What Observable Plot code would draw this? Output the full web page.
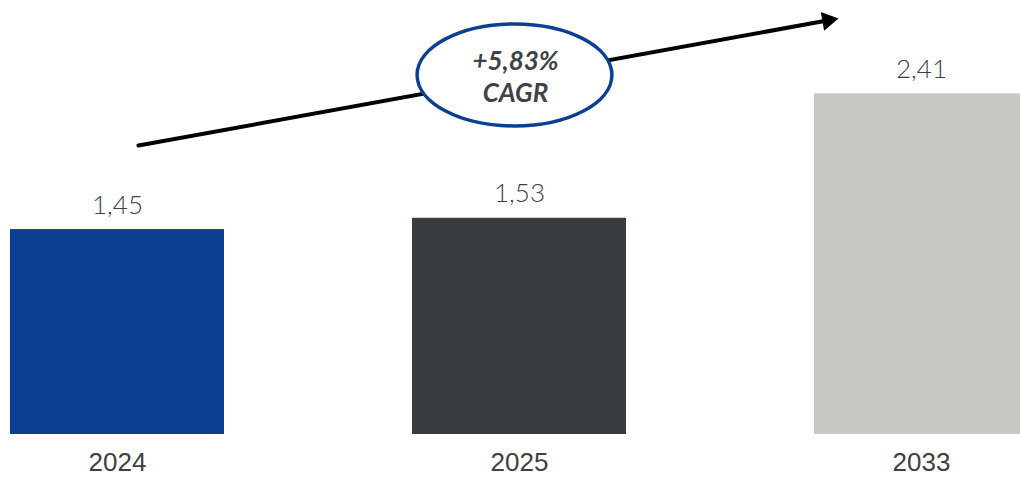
<!DOCTYPE html>
<html>
<head>
<meta charset="utf-8">
<script src="https://cdn.jsdelivr.net/npm/d3@7"></script>
<script src="https://cdn.jsdelivr.net/npm/@observablehq/plot@0.6"></script>
<style>
  html, body { margin: 0; padding: 0; background: #fff; overflow: hidden; }
  svg { overflow: hidden; }
</style>
</head>
<body>
<div id="chart"></div>
<script>
// ---- data ----
const years = ["2024", "2025", "2033"];
const values = [1.45, 1.53, 2.41];
const valueLabels = ["1,45", "1,53", "2,41"];
const barColors = ["#0b3f91", "#393d42", "#c8c8c2"];
const cagrText = "+5,83%\nCAGR";
// trend arrow, anchored to the first and last year
const arrowStart = {year: "2024", value: 2.018};
const arrowEnd = {year: "2033", value: 3.05};
const arrowTip = {year: "2033", value: 2.93};
const bubble = {year: "2025", value: 2.544};

const bars = years.map((y, i) => ({year: y, value: values[i], label: valueLabels[i], color: barColors[i]}));

// custom ellipse symbol for the CAGR bubble
const ellipseSymbol = {
  draw(ctx, size) {
    const ry = Math.sqrt(size / Math.PI), rx = ry * 1.91, k = 0.5523;
    ctx.moveTo(rx, 0);
    ctx.bezierCurveTo(rx, k * ry, k * rx, ry, 0, ry);
    ctx.bezierCurveTo(-k * rx, ry, -rx, k * ry, -rx, 0);
    ctx.bezierCurveTo(-rx, -k * ry, -k * rx, -ry, 0, -ry);
    ctx.bezierCurveTo(k * rx, -ry, rx, -k * ry, rx, 0);
    ctx.closePath();
  }
};

const chart = Plot.plot({
  width: 1020,
  height: 480,
  marginTop: 10,
  marginBottom: 46,
  marginLeft: 0,
  marginRight: 0,
  style: {background: "#fff", overflow: "hidden"},
  x: {domain: years, range: [10, 1028], paddingInner: 0.4677, paddingOuter: 0, label: null},
  y: {domain: [0, 3], axis: null},
  marks: [
    Plot.barY(bars, {x: "year", y: "value", fill: "color"}),
    Plot.text(bars, {
      x: "year", y: "value", text: "label", dy: -16, lineAnchor: "bottom",
      fontSize: 26, fontFamily: "Lato", fontWeight: 300, fill: "#404040"
    }),
    Plot.axisX({
      tickSize: 0, tickPadding: 18, fontSize: 26, label: null,
      fontFamily: "'Liberation Sans', Arial, sans-serif", fill: "#404040"
    }),
    Plot.arrow([{}], {
      x1: () => arrowStart.year, y1: () => arrowStart.value,
      x2: () => arrowEnd.year, y2: () => arrowEnd.value,
      insetStart: 21.3, insetEnd: 94.5, headLength: 0,
      stroke: "#000", strokeWidth: 4
    }),
    Plot.dot([arrowTip], {
      x: "year", y: "value", dx: -93.7, symbol: "triangle", r: 7, rotate: 79.7,
      fill: "#000", stroke: "none"
    }),
    Plot.dot([bubble], {
      x: "year", y: "value", dx: -5, symbol: ellipseSymbol, r: 51,
      fill: "#fff", stroke: "#0b3f91", strokeWidth: 3.5
    }),
    Plot.text([bubble], {
      x: "year", y: "value", dx: -4, dy: 1, text: () => cagrText, lineHeight: 1.22,
      fontSize: 26, fontWeight: "bold", fontStyle: "italic", fontFamily: "Lato",
      fill: "#3f4247"
    })
  ]
});
document.getElementById("chart").append(chart);
</script>
</body>
</html>
